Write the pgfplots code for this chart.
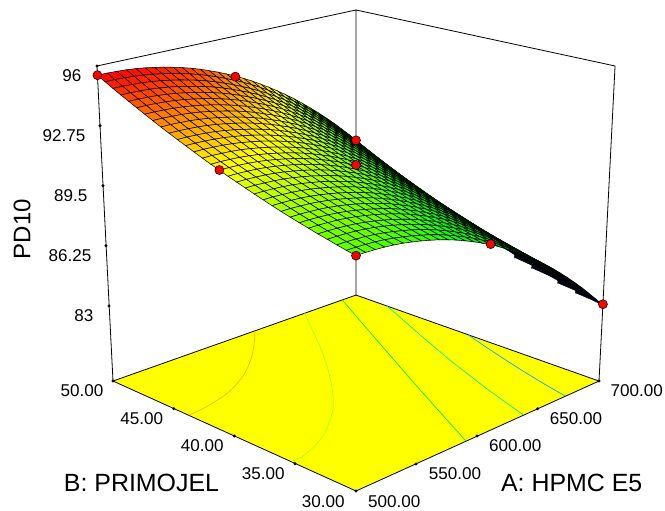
\documentclass[border=0pt]{standalone}
\usepackage{pgfplots}
\pgfplotsset{compat=1.18}
\usepackage{fontspec}
\setmainfont{Liberation Sans}
\definecolor{pureY}{RGB}{255,255,0}
\pgfplotsset{
  /pgfplots/table/proj/.style={
    x expr={px((\thisrow{A}-500)/200,(\thisrow{B}-30)/20,(\thisrow{Z}-78.94)/17.06)},
    y expr={511-py((\thisrow{A}-500)/200,(\thisrow{B}-30)/20,(\thisrow{Z}-78.94)/17.06)},
    z expr=0},
  /pgfplots/table/gridproj/.style={
    x expr={px(1-mod(\coordindex,#1)/(#1-1),1-floor(\coordindex/#1)/(#1-1),(\thisrow{Z}-78.94)/17.06)},
    y expr={511-py(1-mod(\coordindex,#1)/(#1-1),1-floor(\coordindex/#1)/(#1-1),(\thisrow{Z}-78.94)/17.06)},
    z expr=0}
}
\newcommand\ticklab[1]{\fontsize{12.8pt}{13pt}\selectfont #1}
\begin{document}
\begin{tikzpicture}[
  declare function={
    px(\u,\v,\w)=(1-\w)*(356+276.9*(\u-\v)/(1+0.1395*(\u+\v)))+\w*(356+297.9*(\u-\v)/(1+0.15*(\u+\v)));
    py(\u,\v,\w)=(1-\w)*(491-56.8*(\u+\v))/(1+0.1395*(\u+\v))+\w*(138.8-62.9*(\u+\v))/(1+0.15*(\u+\v));
  }]
\useasboundingbox (0,0) rectangle (498.75pt,383.25pt);
\begin{axis}[at={(0,0)},anchor=south west,scale only axis,width=498.75pt,height=383.25pt,
  xmin=0,xmax=665,ymin=0,ymax=511,zmin=0,zmax=1,view={0}{90},hide axis,clip=false,
  colormap={rb}{rgb255(0pt)=(0,0,30) rgb255(25pt)=(0,30,30) rgb255(40pt)=(0,200,60) rgb255(63pt)=(0,255,0) rgb255(94pt)=(255,255,0) rgb255(125pt)=(255,0,0)},
  point meta min=83,point meta max=95.5]
% frame behind
\addplot3[black,line width=.6pt] table[proj] {
A B Z
500 50 78.94
500 50 96
700 50 96
700 50 78.94
};
\addplot3[black,line width=.6pt] table[proj] {
A B Z
700 50 96
700 30 96
700 30 78.94
};
% floor
\addplot3[fill=pureY,draw=black,line width=.6pt] table[proj] {
A B Z
500 30 78.94
700 30 78.94
700 50 78.94
500 50 78.94
500 30 78.94
};
% contours
\addplot3[color={rgb,255:red,255;green,170;blue,30},line width=.5pt,smooth] table[proj] {
A B Z
500 43.2 78.94
515.6 43.4 78.94
536.2 44 78.94
555.2 45 78.94
569.4 46 78.94
581.4 47 78.94
592 48 78.94
601.8 49 78.94
611.2 50 78.94
};
\addplot3[color={rgb,255:red,160;green,255;blue,30},line width=.5pt,smooth] table[proj] {
A B Z
500 34.8 78.94
513 35 78.94
535 36 78.94
561.6 38 78.94
580.8 40 78.94
597.4 42 78.94
612.6 44 78.94
626.8 46 78.94
640.2 48 78.94
653.4 50 78.94
};
\addplot3[color={rgb,255:red,0;green,235;blue,20},line width=.5pt] table[proj] {
A B Z
584.2 30 78.94
604.4 34 78.94
624.8 38 78.94
645.6 42 78.94
666.4 46 78.94
687.4 50 78.94
};
\addplot3[color={rgb,255:red,0;green,235;blue,170},line width=.5pt] table[proj] {
A B Z
632.2 30 78.94
645.8 34 78.94
661 38 78.94
677.6 42 78.94
695 46 78.94
700 47.2 78.94
};
\addplot3[color={rgb,255:red,0;green,170;blue,255},line width=.5pt] table[proj] {
A B Z
669.2 30 78.94
674.2 32 78.94
679.8 34 78.94
686 36 78.94
692.4 38 78.94
699.2 40 78.94
700 40.2 78.94
};
% design point behind the surface
\addplot3[only marks,mark=*,mark size=3.4pt,mark options={fill=red,draw=black,line width=.4pt}] table[proj] {
A B Z
700 50 88.2
};
% surface
\addplot3[surf,shader=faceted,faceted color=black,line width=.4pt,z buffer=none,mesh/rows=31,mesh/cols=31,point meta=explicit] table[gridproj=31,meta=Z] {
Z
88.20
88.69
89.15
89.61
90.04
90.46
90.86
91.25
91.62
91.97
92.30
92.62
92.92
93.21
93.48
93.73
93.96
94.18
94.38
94.57
94.74
94.89
95.02
95.14
95.24
95.33
95.40
95.45
95.48
95.50
95.50
87.96
88.45
88.91
89.37
89.80
90.22
90.62
91.01
91.38
91.73
92.06
92.38
92.68
92.97
93.24
93.49
93.72
93.94
94.14
94.33
94.50
94.65
94.78
94.90
95.00
95.09
95.16
95.21
95.24
95.26
95.26
87.72
88.21
88.67
89.13
89.56
89.98
90.38
90.77
91.14
91.49
91.82
92.14
92.44
92.73
93.00
93.25
93.48
93.70
93.90
94.09
94.26
94.41
94.54
94.66
94.76
94.85
94.92
94.97
95.00
95.02
95.02
87.49
87.98
88.44
88.90
89.33
89.75
90.15
90.54
90.91
91.26
91.59
91.91
92.21
92.50
92.77
93.02
93.25
93.47
93.67
93.86
94.03
94.18
94.31
94.43
94.53
94.62
94.69
94.74
94.77
94.79
94.79
87.27
87.76
88.22
88.68
89.11
89.53
89.93
90.32
90.69
91.04
91.37
91.69
91.99
92.28
92.55
92.80
93.03
93.25
93.45
93.64
93.81
93.96
94.09
94.21
94.31
94.40
94.47
94.52
94.55
94.57
94.57
87.05
87.54
88.00
88.46
88.89
89.31
89.71
90.10
90.47
90.82
91.15
91.47
91.77
92.06
92.33
92.58
92.81
93.03
93.23
93.42
93.59
93.74
93.87
93.99
94.09
94.18
94.25
94.30
94.33
94.35
94.35
86.83
87.32
87.78
88.24
88.67
89.09
89.49
89.88
90.25
90.60
90.93
91.25
91.55
91.84
92.11
92.36
92.59
92.81
93.01
93.20
93.37
93.52
93.65
93.77
93.87
93.96
94.03
94.08
94.11
94.13
94.13
86.62
87.11
87.57
88.03
88.46
88.88
89.28
89.67
90.04
90.39
90.72
91.04
91.34
91.63
91.90
92.15
92.38
92.60
92.80
92.99
93.16
93.31
93.44
93.56
93.66
93.75
93.82
93.87
93.90
93.92
93.92
86.41
86.90
87.36
87.82
88.25
88.67
89.07
89.46
89.83
90.18
90.51
90.83
91.13
91.42
91.69
91.94
92.17
92.39
92.59
92.78
92.95
93.10
93.23
93.35
93.45
93.54
93.61
93.66
93.69
93.71
93.71
86.21
86.70
87.16
87.62
88.05
88.47
88.87
89.26
89.63
89.98
90.31
90.63
90.93
91.22
91.49
91.74
91.97
92.19
92.39
92.58
92.75
92.90
93.03
93.15
93.25
93.34
93.41
93.46
93.49
93.51
93.51
86.01
86.50
86.96
87.42
87.85
88.27
88.67
89.06
89.43
89.78
90.11
90.43
90.73
91.02
91.29
91.54
91.77
91.99
92.19
92.38
92.55
92.70
92.83
92.95
93.05
93.14
93.21
93.26
93.29
93.31
93.31
85.82
86.31
86.77
87.23
87.66
88.08
88.48
88.87
89.24
89.59
89.92
90.24
90.54
90.83
91.10
91.35
91.58
91.80
92.00
92.19
92.36
92.51
92.64
92.76
92.86
92.95
93.02
93.07
93.10
93.12
93.12
85.63
86.12
86.58
87.04
87.47
87.89
88.29
88.68
89.05
89.40
89.73
90.05
90.35
90.64
90.91
91.16
91.39
91.61
91.81
92.00
92.17
92.32
92.45
92.57
92.67
92.76
92.83
92.88
92.91
92.93
92.93
85.44
85.93
86.39
86.85
87.28
87.70
88.10
88.49
88.86
89.21
89.54
89.86
90.16
90.45
90.72
90.97
91.20
91.42
91.62
91.81
91.98
92.13
92.26
92.38
92.48
92.57
92.64
92.69
92.72
92.74
92.74
85.26
85.75
86.21
86.67
87.10
87.52
87.92
88.31
88.68
89.03
89.36
89.68
89.98
90.27
90.54
90.79
91.02
91.24
91.44
91.63
91.80
91.95
92.08
92.20
92.30
92.39
92.46
92.51
92.54
92.56
92.56
85.09
85.58
86.04
86.50
86.93
87.35
87.75
88.14
88.51
88.86
89.19
89.51
89.81
90.10
90.37
90.62
90.85
91.07
91.27
91.46
91.63
91.78
91.91
92.03
92.13
92.22
92.29
92.34
92.37
92.39
92.39
84.92
85.41
85.87
86.33
86.76
87.18
87.58
87.97
88.34
88.69
89.02
89.34
89.64
89.93
90.20
90.45
90.68
90.90
91.10
91.29
91.46
91.61
91.74
91.86
91.96
92.05
92.12
92.17
92.20
92.22
92.22
84.76
85.25
85.71
86.17
86.60
87.02
87.42
87.81
88.18
88.53
88.86
89.18
89.48
89.77
90.04
90.29
90.52
90.74
90.94
91.13
91.30
91.45
91.58
91.70
91.80
91.89
91.96
92.01
92.04
92.06
92.06
84.60
85.09
85.55
86.01
86.44
86.86
87.26
87.65
88.02
88.37
88.70
89.02
89.32
89.61
89.88
90.13
90.36
90.58
90.78
90.97
91.14
91.29
91.42
91.54
91.64
91.73
91.80
91.85
91.88
91.90
91.90
84.44
84.93
85.39
85.85
86.28
86.70
87.10
87.49
87.86
88.21
88.54
88.86
89.16
89.45
89.72
89.97
90.20
90.42
90.62
90.81
90.98
91.13
91.26
91.38
91.48
91.57
91.64
91.69
91.72
91.74
91.74
84.29
84.78
85.24
85.70
86.13
86.55
86.95
87.34
87.71
88.06
88.39
88.71
89.01
89.30
89.57
89.82
90.05
90.27
90.47
90.66
90.83
90.98
91.11
91.23
91.33
91.42
91.49
91.54
91.57
91.59
91.59
84.14
84.63
85.09
85.55
85.98
86.40
86.80
87.19
87.56
87.91
88.24
88.56
88.86
89.15
89.42
89.67
89.90
90.12
90.32
90.51
90.68
90.83
90.96
91.08
91.18
91.27
91.34
91.39
91.42
91.44
91.44
84.00
84.49
84.95
85.41
85.84
86.26
86.66
87.05
87.42
87.77
88.10
88.42
88.72
89.01
89.28
89.53
89.76
89.98
90.18
90.37
90.54
90.69
90.82
90.94
91.04
91.13
91.20
91.25
91.28
91.30
91.30
83.86
84.35
84.81
85.27
85.70
86.12
86.52
86.91
87.28
87.63
87.96
88.28
88.58
88.87
89.14
89.39
89.62
89.84
90.04
90.23
90.40
90.55
90.68
90.80
90.90
90.99
91.06
91.11
91.14
91.16
91.16
83.73
84.22
84.68
85.14
85.57
85.99
86.39
86.78
87.15
87.50
87.83
88.15
88.45
88.74
89.01
89.26
89.49
89.71
89.91
90.10
90.27
90.42
90.55
90.67
90.77
90.86
90.93
90.98
91.01
91.03
91.03
83.61
84.10
84.56
85.02
85.45
85.87
86.27
86.66
87.03
87.38
87.71
88.03
88.33
88.62
88.89
89.14
89.37
89.59
89.79
89.98
90.15
90.30
90.43
90.55
90.65
90.74
90.81
90.86
90.89
90.91
90.91
83.48
83.97
84.43
84.89
85.32
85.74
86.14
86.53
86.90
87.25
87.58
87.90
88.20
88.49
88.76
89.01
89.24
89.46
89.66
89.85
90.02
90.17
90.30
90.42
90.52
90.61
90.68
90.73
90.76
90.78
90.78
83.37
83.86
84.32
84.78
85.21
85.63
86.03
86.42
86.79
87.14
87.47
87.79
88.09
88.38
88.65
88.90
89.13
89.35
89.55
89.74
89.91
90.06
90.19
90.31
90.41
90.50
90.57
90.62
90.65
90.67
90.67
83.25
83.74
84.20
84.66
85.09
85.51
85.91
86.30
86.67
87.02
87.35
87.67
87.97
88.26
88.53
88.78
89.01
89.23
89.43
89.62
89.79
89.94
90.07
90.19
90.29
90.38
90.45
90.50
90.53
90.55
90.55
83.14
83.63
84.09
84.55
84.98
85.40
85.80
86.19
86.56
86.91
87.24
87.56
87.86
88.15
88.42
88.67
88.90
89.12
89.32
89.51
89.68
89.83
89.96
90.08
90.18
90.27
90.34
90.39
90.42
90.44
90.44
83.04
83.53
83.99
84.45
84.88
85.30
85.70
86.09
86.46
86.81
87.14
87.46
87.76
88.05
88.32
88.57
88.80
89.02
89.22
89.41
89.58
89.73
89.86
89.98
90.08
90.17
90.24
90.29
90.32
90.34
90.34
};
% design points in front
\addplot3[only marks,mark=*,mark size=3.4pt,mark options={fill=red,draw=black,line width=.4pt}] table[proj] {
A B Z
500 50 95.5
600 50 93.7
500 40 92.4
600 40 90.64
600 30 88.6
500 30 90.34
700 30 83.1
};
% tick marks
\addplot3[only marks,mark=*,mark size=.9pt,black] coordinates {
(97,445,0) (100,385.3,0) (103,325.3,0) (106,265.3,0) (109,205,0)
(113,130,0) (173.7,102.3,0) (234.3,75,0) (295,47.3,0) (356,20,0)
(416,47,0) (477,75,0) (537.7,102.3,0) (599,130,0)};
% tick labels
\node[anchor=east] at (axis cs:86,435,0) {\ticklab{96}};
\node[anchor=east] at (axis cs:90,375,0) {\ticklab{92.75}};
\node[anchor=east] at (axis cs:92,315,0) {\ticklab{89.5}};
\node[anchor=east] at (axis cs:96,255,0) {\ticklab{86.25}};
\node[anchor=east] at (axis cs:98,195,0) {\ticklab{83}};
\node at (axis cs:82,120,0) {\ticklab{50.00}};
\node at (axis cs:141.7,92.3,0) {\ticklab{45.00}};
\node at (axis cs:202.3,65,0) {\ticklab{40.00}};
\node at (axis cs:263.3,37.3,0) {\ticklab{35.00}};
\node at (axis cs:323.3,9.3,0) {\ticklab{30.00}};
\node at (axis cs:394.3,9.3,0) {\ticklab{500.00}};
\node at (axis cs:455,37.3,0) {\ticklab{550.00}};
\node at (axis cs:515.3,65,0) {\ticklab{600.00}};
\node at (axis cs:576,92.3,0) {\ticklab{650.00}};
\node at (axis cs:636.7,120,0) {\ticklab{700.00}};
\node[rotate=90] at (axis cs:22,282,0) {\fontsize{18pt}{18pt}\selectfont PD10};
\node at (axis cs:141.5,28.3,0) {\fontsize{18.7pt}{19pt}\selectfont B: PRIMOJEL};
\node at (axis cs:571.7,28.3,0) {\fontsize{18.7pt}{19pt}\selectfont A: HPMC E5};
\end{axis}
\end{tikzpicture}
\end{document}
